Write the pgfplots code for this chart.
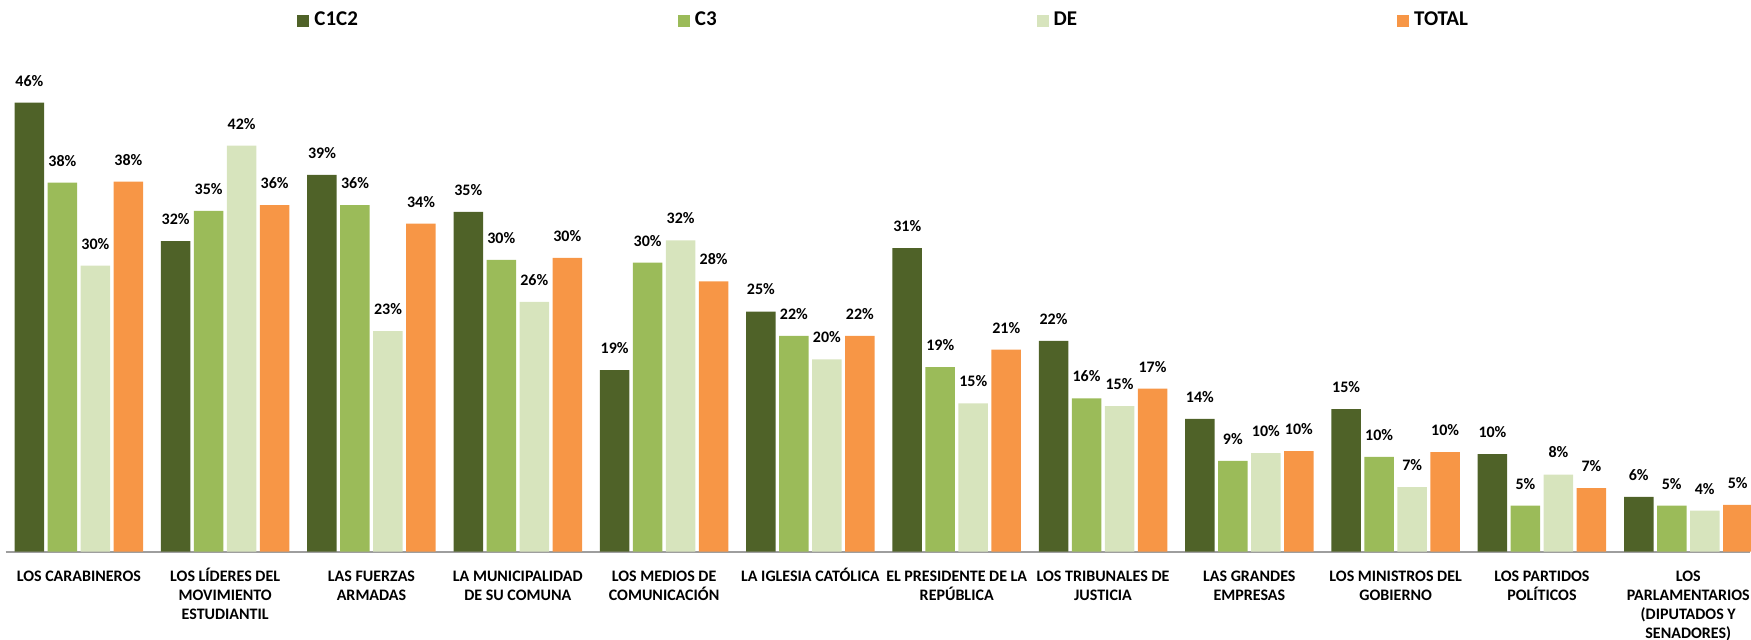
\documentclass[border=0pt]{standalone}
\usepackage{pgfplots}
\usepackage{pgfplotstable}
\pgfplotsset{compat=1.18}
\usepackage{fontspec}
\setmainfont{Carlito}
\definecolor{cA}{HTML}{4F6228}
\definecolor{cB}{HTML}{9BBB59}
\definecolor{cC}{HTML}{D7E4BD}
\definecolor{cD}{HTML}{F79646}
\newcommand{\R}{\rule{0pt}{7pt}}
\pgfplotstableread{
x c1 c1l c3 c3l de del tot totl
0  46.0 46 37.8 38 29.3 30 37.9 38
1  31.8 32 34.9 35 41.6 42 35.5 36
2  38.6 39 35.5 36 22.6 23 33.6 34
3  34.8 35 29.9 30 25.6 26 30.1 30
4  18.6 19 29.6 30 31.9 32 27.7 28
5  24.6 25 22.1 22 19.7 20 22.1 22
6  31.1 31 18.9 19 15.2 15 20.7 21
7  21.6 22 15.7 16 14.9 15 16.7 17
8  13.6 14  9.3  9 10.1 10 10.3 10
9  14.6 15  9.7 10  6.6  7 10.2 10
10 10.0 10  4.7  5  7.9  8  6.5  7
11  5.6  6  4.7  5  4.2  4  4.8  5
}\data
\begin{document}
\begin{tikzpicture}
\begin{axis}[name=ax, scale only axis, width=872pt, height=244pt,
  xmin=-0.5, xmax=11.42, ymin=0, ymax=50, clip=false,
  ybar=1.75pt, bar width=14.75pt,
  axis x line=bottom, axis y line=none,
  x axis line style={-, draw=black!38, line width=0.9pt},
  xtick={0,...,11}, major tick length=0pt, xtick style={draw=none},
  xticklabels={{\R LOS CARABINEROS},{\R LOS LÍDERES DEL\\MOVIMIENTO\\ESTUDIANTIL},{\R LAS FUERZAS\\ARMADAS},{\R LA MUNICIPALIDAD\\DE SU COMUNA},{\R LOS MEDIOS DE\\COMUNICACIÓN},{\R LA IGLESIA CATÓLICA},{\R EL PRESIDENTE DE LA\\REPÚBLICA},{\R LOS TRIBUNALES DE\\JUSTICIA},{\R LAS GRANDES\\EMPRESAS},{\R LOS MINISTROS DEL\\GOBIERNO},{\R LOS PARTIDOS\\POLÍTICOS},{\R LOS\\PARLAMENTARIOS\\(DIPUTADOS Y\\SENADORES)}},
  xticklabel style={font=\fontsize{8}{9.4}\selectfont\bfseries, align=center, anchor=north, inner sep=0pt, yshift=-7.9pt},
  point meta=explicit symbolic,
  nodes near coords={\pgfplotspointmeta\%},
  nodes near coords style={font=\fontsize{8}{9.6}\selectfont\bfseries, inner sep=0pt, anchor=south, yshift=8pt, text=black},
  legend columns=4,
  legend image code/.code={\fill[#1] (0pt,-3pt) rectangle (6pt,3pt);},
  legend style={draw=none, fill=none, at={(0,1)}, anchor=west, xshift=145.65pt, yshift=21.5pt, inner sep=0pt,
    font=\fontsize{10.5}{12}\selectfont\bfseries,
    /tikz/every even column/.append style={column sep=160pt},
    /tikz/every odd column/.append style={column sep=2.5pt},
    nodes={inner sep=0pt}},
]
\addplot[fill=cA, draw=none] table[x=x, y=c1, meta=c1l] {\data};
\addplot[fill=cB, draw=none] table[x=x, y=c3, meta=c3l] {\data};
\addplot[fill=cC, draw=none] table[x=x, y=de, meta=del] {\data};
\addplot[fill=cD, draw=none] table[x=x, y=tot, meta=totl] {\data};
\legend{C1C2,C3,DE,TOTAL}
\end{axis}
\pgfresetboundingbox
\path[use as bounding box] ([xshift=-2.85pt,yshift=-43.7pt]ax.south west) rectangle ++(875.5pt,319.5pt);
\end{tikzpicture}
\end{document}
